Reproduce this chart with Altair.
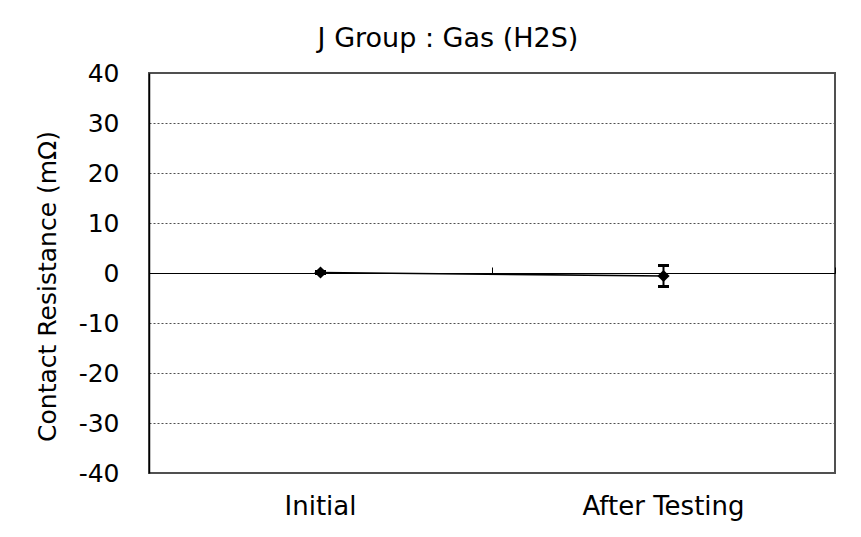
import altair as alt
import pandas as pd

categories = ["Initial", "After Testing"]
mean_values = [0.1, -0.6]
error_values = [0.2, 2.1]

df = pd.DataFrame({"stage": categories, "mean": mean_values, "err": error_values})
df["lo"] = df["mean"] - df["err"]
df["hi"] = df["mean"] + df["err"]

FONT = "DejaVu Sans"
Y_TITLE = "Contact Resistance (mΩ)"

xscale = alt.Scale(domain=categories, paddingInner=0, paddingOuter=0)
yscale = alt.Scale(domain=[-40, 40], nice=False, zero=False)

x_bottom = alt.X(
    "stage:N", scale=xscale, sort=categories, title=None,
    axis=alt.Axis(orient="bottom", domain=False, ticks=False, labelAngle=0,
                  labelFontSize=26, labelPadding=20, labelColor="black",
                  labelFont=FONT, grid=False),
)
x_none = alt.X("stage:N", scale=xscale, sort=categories, title=None, axis=None)
x_zero = alt.X(
    "stage:N", scale=xscale, sort=categories, title=None,
    axis=alt.Axis(orient="top", offset=-200, domain=True, domainColor="black",
                  domainWidth=1.2, ticks=True, tickBand="extent", tickSize=6,
                  tickColor="black", tickWidth=1, labels=False, grid=False),
)

Y_AXIS = alt.Axis(values=list(range(-40, 41, 10)), ticks=False,
                  labelExpr="'' + datum.value",
                  labelFontSize=25, labelFont=FONT, labelColor="black",
                  labelPadding=30, domainColor="black", domainWidth=1.5,
                  grid=True, gridColor="#505050", gridDash=[2, 2], gridWidth=1,
                  titleFont=FONT, titleFontSize=25, titleFontWeight="normal",
                  titleColor="black", titleAngle=-90, titleX=-102, titleY=213,
                  titleAlign="center", titleBaseline="middle")


def yaxis(field):
    return alt.Y(field, scale=yscale, title=Y_TITLE, axis=Y_AXIS)


base = alt.Chart(df)

line = base.mark_line(color="black", strokeWidth=1.6).encode(x=x_bottom, y=yaxis("mean:Q"))
err = base.mark_rule(color="black", strokeWidth=2).encode(x=x_none, y=yaxis("lo:Q"), y2="hi:Q")
cap_lo = base.mark_tick(color="black", size=11, thickness=3, opacity=1).encode(x=x_none, y=yaxis("lo:Q"))
cap_hi = base.mark_tick(color="black", size=11, thickness=3, opacity=1).encode(x=x_zero, y=yaxis("hi:Q"))
pts = base.mark_point(shape="diamond", filled=True, color="black", size=150, opacity=1).encode(
    x=x_none, y=yaxis("mean:Q"))

chart = (
    alt.layer(line, err, cap_lo, cap_hi, pts)
    .resolve_axis(x="independent")
    .properties(
        width=686, height=400,
        autosize=alt.AutoSizeParams(type="none"),
        padding={"left": 141, "top": 65, "right": 18, "bottom": 56},
        view=alt.ViewBackground(stroke="#505050", strokeWidth=2),
        title=alt.TitleParams("J Group : Gas (H2S)", fontSize=27, font=FONT,
                              fontWeight="normal", color="black", offset=8,
                              dx=-44, anchor="middle"),
    )
    .configure(background="white")
)

chart.save("out.html", embed_options={"renderer": "svg", "actions": False})
